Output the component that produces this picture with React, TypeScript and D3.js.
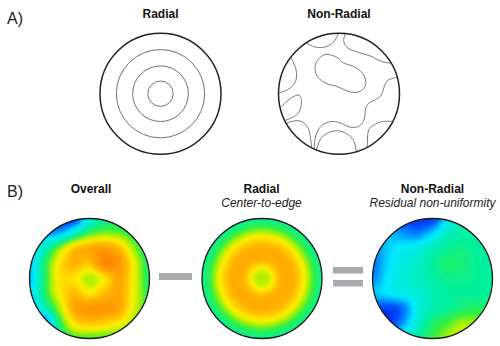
import React, { useMemo } from "react";
import * as d3 from "d3";

// ---------- DATA ----------
// Panel A, radial diagram: ring radii as fraction of wafer radius
const radialRings = [0.73, 0.46, 0.21];

// Panel A, non-radial diagram: contour lines in normalized wafer coords (u,v in [-1,1], v down)
const contourTopCap: [number, number][] = [[-0.57, -0.87], [-0.42, -0.78], [-0.25, -0.77], [-0.12, -0.83], [-0.04, -0.93], [0.0, -1.03]];
const contourTopRight: [number, number][] = [[0.12, -1.03], [0.077, -0.88], [0.13, -0.77], [0.3, -0.69], [0.52, -0.625], [0.7, -0.536], [0.9, -0.5]];
const contourBlob: [number, number][] = [[-0.23, -0.65], [-0.03, -0.6], [0.077, -0.51], [0.27, -0.44], [0.41, -0.31], [0.44, -0.15], [0.35, -0.04], [0.19, -0.03], [-0.03, -0.12], [-0.25, -0.19], [-0.38, -0.33], [-0.38, -0.51]];
const contourLeft: [number, number][] = [[-0.82, -0.64], [-0.71, -0.4], [-0.72, -0.2], [-0.83, -0.08], [-1.03, 0.0]];
const contourLeftBump: [number, number][] = [[-1.02, 0.28], [-0.8, 0.077], [-0.66, 0.02], [-0.62, 0.13], [-0.68, 0.33], [-0.92, 0.45]];
const contourLeftLow: [number, number][] = [[-0.92, 0.51], [-0.75, 0.45], [-0.61, 0.46], [-0.51, 0.57], [-0.47, 0.74], [-0.45, 0.94]];
const contourLong: [number, number][] = [[0.98, -0.28], [0.8, -0.215], [0.74, -0.094], [0.7, 0.02], [0.62, 0.09], [0.5, 0.15], [0.44, 0.24], [0.43, 0.35], [0.4, 0.46], [0.32, 0.54], [0.18, 0.55], [0.02, 0.48], [-0.14, 0.46], [-0.28, 0.52], [-0.36, 0.63], [-0.4, 0.77], [-0.41, 0.94]];
const contourBottomArc: [number, number][] = [[-0.38, 0.95], [-0.3, 0.74], [-0.19, 0.65], [-0.03, 0.61], [0.127, 0.66], [0.24, 0.77], [0.29, 0.98]];
const contourBottomRight: [number, number][] = [[0.47, 0.92], [0.49, 0.6], [0.57, 0.52], [0.71, 0.46], [0.92, 0.46]];
const openContours = [contourTopCap, contourTopRight, contourLeft, contourLeftBump, contourLeftLow, contourLong, contourBottomArc, contourBottomRight];
const closedContours = [contourBlob];

// Panel B: radial profile (value vs normalized radius 0,0.1,...,1)
const radialProfile = [0.62, 0.64, 0.72, 0.81, 0.84, 0.83, 0.78, 0.7, 0.6, 0.52, 0.47];

// Panel B: overall map, 9x9 grid, rows v=-1..1, cols u=-1..1
const overallGrid = [
  [0.2, 0.15, 0.1, 0.12, 0.35, 0.45, 0.48, 0.48, 0.48],
  [0.2, 0.22, 0.25, 0.4, 0.55, 0.6, 0.58, 0.52, 0.48],
  [0.22, 0.4, 0.6, 0.78, 0.84, 0.88, 0.8, 0.6, 0.5],
  [0.25, 0.5, 0.72, 0.82, 0.78, 0.95, 0.9, 0.68, 0.5],
  [0.25, 0.5, 0.72, 0.72, 0.62, 0.72, 0.85, 0.68, 0.5],
  [0.28, 0.5, 0.7, 0.8, 0.72, 0.8, 0.85, 0.68, 0.52],
  [0.2, 0.4, 0.62, 0.85, 0.9, 0.9, 0.85, 0.66, 0.55],
  [0.08, 0.15, 0.5, 0.72, 0.78, 0.75, 0.7, 0.6, 0.55],
  [0.1, 0.2, 0.45, 0.55, 0.55, 0.55, 0.55, 0.55, 0.55],
];

// Panel B: residual (non-radial) map, 9x9 grid
const residualGrid = [
  [0.3, 0.25, 0.15, 0.1, 0.12, 0.3, 0.42, 0.43, 0.43],
  [0.28, 0.26, 0.22, 0.2, 0.28, 0.4, 0.44, 0.44, 0.44],
  [0.2, 0.27, 0.32, 0.34, 0.41, 0.46, 0.48, 0.45, 0.44],
  [0.18, 0.28, 0.35, 0.38, 0.45, 0.5, 0.49, 0.46, 0.45],
  [0.2, 0.3, 0.36, 0.4, 0.44, 0.47, 0.47, 0.46, 0.45],
  [0.26, 0.3, 0.33, 0.36, 0.42, 0.45, 0.46, 0.46, 0.46],
  [0.14, 0.12, 0.18, 0.34, 0.43, 0.46, 0.5, 0.52, 0.5],
  [0.12, 0.1, 0.22, 0.38, 0.5, 0.56, 0.62, 0.6, 0.55],
  [0.2, 0.25, 0.35, 0.45, 0.55, 0.62, 0.66, 0.62, 0.55],
];

// colour map stops
const colorStops = [0, 0.15, 0.3, 0.45, 0.55, 0.62, 0.7, 0.82, 1.0];
const colorValues = ["#0000c8", "#0050ff", "#00eaff", "#00f0a0", "#30f040", "#a8f000", "#fff000", "#ffb000", "#ff7a00"];

// texts
const labelA = "A)";
const labelB = "B)";
const titlesA = ["Radial", "Non-Radial"];
const titlesB = ["Overall", "Radial", "Non-Radial"];
const subtitlesB = ["", "Center-to-edge", "Residual non-uniformity"];

// ---------- helpers ----------
const color = d3.scaleLinear<string>().domain(colorStops).range(colorValues).interpolate(d3.interpolateRgb).clamp(true);

function cr(p0: number, p1: number, p2: number, p3: number, t: number) {
  return 0.5 * (2 * p1 + (-p0 + p2) * t + (2 * p0 - 5 * p1 + 4 * p2 - p3) * t * t + (-p0 + 3 * p1 - 3 * p2 + p3) * t * t * t);
}
function sample1D(arr: number[], x: number) {
  const n = arr.length;
  const g = Math.max(0, Math.min(n - 1, x * (n - 1)));
  const i = Math.min(n - 2, Math.floor(g));
  const t = g - i;
  const at = (k: number) => arr[Math.max(0, Math.min(n - 1, k))];
  return cr(at(i - 1), at(i), at(i + 1), at(i + 2), t);
}
function sampleGrid(grid: number[][], u: number, v: number) {
  const n = grid.length;
  const gy = Math.max(0, Math.min(n - 1, ((v + 1) / 2) * (n - 1)));
  const j = Math.min(n - 2, Math.floor(gy));
  const ty = gy - j;
  const rows = [j - 1, j, j + 1, j + 2].map((k) => grid[Math.max(0, Math.min(n - 1, k))]);
  const vals = rows.map((r) => sample1D(r, (u + 1) / 2));
  return cr(vals[0], vals[1], vals[2], vals[3], ty);
}

type Wafer = { id: string; cx: number; cy: number; r: number; f: (u: number, v: number) => number };

function HeatWafer({ w }: { w: Wafer }) {
  const step = 2;
  const cells = useMemo(() => {
    const out: { x: number; y: number; c: string }[] = [];
    const x0 = Math.floor(w.cx - w.r - 4);
    const y0 = Math.floor(w.cy - w.r - 4);
    const x1 = w.cx + w.r + 4;
    const y1 = w.cy + w.r + 4;
    const su = d3.scaleLinear().domain([w.cx - w.r, w.cx + w.r]).range([-1, 1]);
    const sv = d3.scaleLinear().domain([w.cy - w.r, w.cy + w.r]).range([-1, 1]);
    for (let y = y0; y < y1; y += step) {
      for (let x = x0; x < x1; x += step) {
        const u = su(x + step / 2);
        const v = sv(y + step / 2);
        if (Math.hypot(u, v) > 1.08) continue;
        out.push({ x, y, c: color(Math.max(0, Math.min(1, w.f(u, v)))) });
      }
    }
    return out;
  }, [w]);
  return (
    <g>
      <clipPath id={"clip-" + w.id}>
        <circle cx={w.cx} cy={w.cy} r={w.r} />
      </clipPath>
      <g clipPath={`url(#clip-${w.id})`}>
        <g filter="url(#soft)">
          {cells.map((d, i) => (
            <rect key={i} x={d.x} y={d.y} width={step + 0.3} height={step + 0.3} fill={d.c} />
          ))}
        </g>
      </g>
      <circle cx={w.cx} cy={w.cy} r={w.r} fill="none" stroke="#1a1a1a" strokeWidth={1.3} />
    </g>
  );
}

export default function App() {
  const font = "'Liberation Sans', Arial, sans-serif";
  // Panel A geometry
  const aR = 60.5;
  const aRadial = { cx: 160.5, cy: 93.7 };
  const aNon = { cx: 339, cy: 93.8 };
  const sx = d3.scaleLinear().domain([-1, 1]).range([aNon.cx - aR, aNon.cx + aR]);
  const sy = d3.scaleLinear().domain([-1, 1]).range([aNon.cy - aR, aNon.cy + aR]);
  const lineOpen = d3.line<[number, number]>().x((d) => sx(d[0])).y((d) => sy(d[1])).curve(d3.curveCatmullRom.alpha(0.5));
  const lineClosed = d3.line<[number, number]>().x((d) => sx(d[0])).y((d) => sy(d[1])).curve(d3.curveCatmullRomClosed.alpha(0.5));
  const ringScale = d3.scaleLinear().domain([0, 1]).range([0, aR]);

  // Panel B geometry
  const bR = 60;
  const bCy = 278.5;
  const wafers: Wafer[] = [
    { id: "overall", cx: 89.5, cy: bCy, r: bR, f: (u, v) => sampleGrid(overallGrid, u, v) },
    { id: "radial", cx: 262, cy: bCy, r: bR, f: (u, v) => sample1D(radialProfile, Math.min(1, Math.hypot(u, v))) },
    { id: "residual", cx: 432.5, cy: bCy, r: bR, f: (u, v) => sampleGrid(residualGrid, u, v) },
  ];
  const bTitleX = [91, 261.5, 432.5];
  const barColor = "#a8a8ad";

  return (
    <svg width={500} height={346} style={{ position: "absolute", left: 0, top: 0, background: "#fff" }} fontFamily={font}>
      <defs>
        <filter id="soft" x="-10%" y="-10%" width="120%" height="120%">
          <feGaussianBlur stdDeviation={1.1} />
        </filter>
        <clipPath id="clip-a-non">
          <circle cx={aNon.cx} cy={aNon.cy} r={aR} />
        </clipPath>
      </defs>
      <rect width={500} height={346} fill="#fff" />

      {/* Panel A */}
      <text x={7} y={24} fontSize={16} fill="#222">{labelA}</text>
      <text x={aRadial.cx} y={18.3} fontSize={12} fontWeight={700} textAnchor="middle" fill="#111">{titlesA[0]}</text>
      <text x={aNon.cx} y={18.3} fontSize={12} fontWeight={700} textAnchor="middle" fill="#111">{titlesA[1]}</text>

      {radialRings.map((r, i) => (
        <circle key={i} cx={aRadial.cx} cy={aRadial.cy} r={ringScale(r)} fill="none" stroke="#707070" strokeWidth={1} />
      ))}
      <circle cx={aRadial.cx} cy={aRadial.cy} r={aR} fill="none" stroke="#222" strokeWidth={1.5} />

      <g clipPath="url(#clip-a-non)" fill="none" stroke="#7a7a7a" strokeWidth={1}>
        {openContours.map((c, i) => (
          <path key={i} d={lineOpen(c) || ""} />
        ))}
        {closedContours.map((c, i) => (
          <path key={"c" + i} d={lineClosed(c) || ""} />
        ))}
      </g>
      <circle cx={aNon.cx} cy={aNon.cy} r={aR} fill="none" stroke="#222" strokeWidth={1.5} />

      {/* Panel B */}
      <text x={7} y={197} fontSize={16} fill="#222">{labelB}</text>
      {titlesB.map((t, i) => (
        <text key={t + i} x={bTitleX[i]} y={193} fontSize={12} fontWeight={700} textAnchor="middle" fill="#111">{t}</text>
      ))}
      {subtitlesB.map((t, i) =>
        t ? (
          <text key={"s" + i} x={bTitleX[i]} y={207} fontSize={12} fontStyle="italic" textAnchor="middle" fill="#222">{t}</text>
        ) : null
      )}
      {wafers.map((w) => (
        <HeatWafer key={w.id} w={w} />
      ))}
      <rect x={159} y={273} width={33} height={7} fill={barColor} />
      <rect x={333} y={267} width={30} height={6.5} fill={barColor} />
      <rect x={333} y={280} width={30} height={6.5} fill={barColor} />
    </svg>
  );
}
